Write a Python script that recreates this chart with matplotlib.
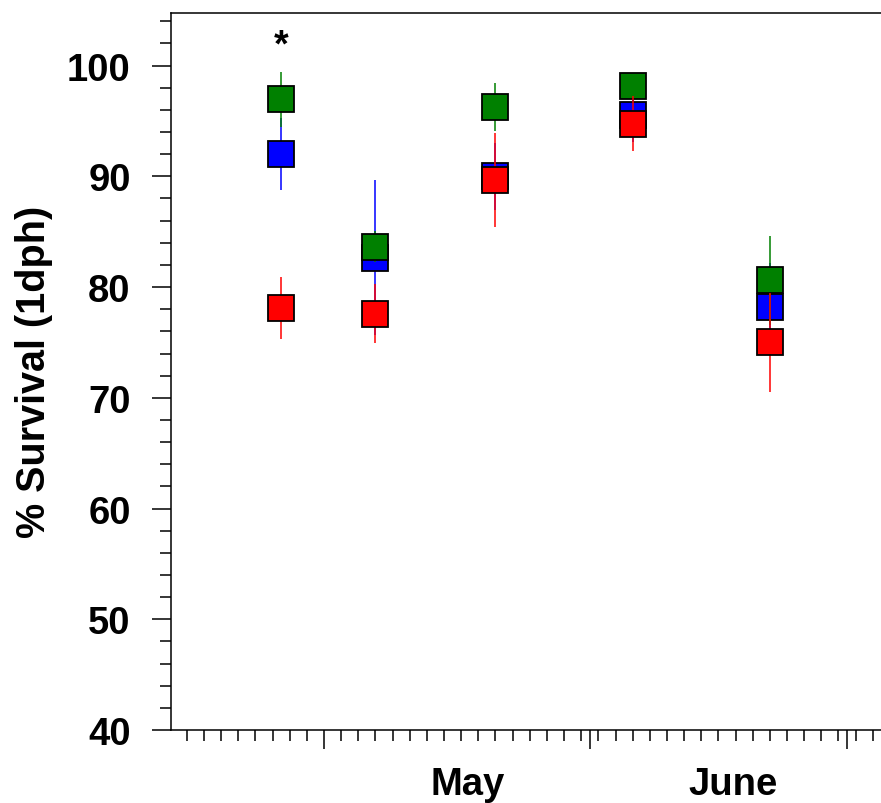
import matplotlib
matplotlib.use("Agg")
import matplotlib.pyplot as plt
from matplotlib.ticker import MultipleLocator, FixedLocator, NullFormatter
import matplotlib.transforms as mtransforms

# ---- data (x = day of year) ----
days = [116, 127, 141, 157, 173]

blue_mean = [92.0, 82.66, 90.0, 95.53, 78.18]
blue_err = [3.25, 7.0, 3.0, 2.4, 4.0]

green_mean = [96.95, 83.65, 96.3, 98.15, 80.6]
green_err = [2.46, 1.4, 2.17, 1.0, 4.0]

red_mean = [78.07, 77.6, 89.65, 94.75, 75.0]
red_err = [2.8, 2.65, 4.24, 2.5, 4.5]

month_starts = [121, 152, 182]
month_labels = ["May", "June"]
month_label_pos = [137.8, 168.7]

y_label = "% Survival (1dph)"
star_day = 116
star_y = 100.9

plt.rcParams['font.family'] = ['Liberation Sans', 'DejaVu Sans']
plt.rcParams['font.weight'] = 'bold'

fig = plt.figure(figsize=(8.81, 8.04), dpi=100)
ax = fig.add_axes([171/881, 1 - 731/804, 1 - 171/881, (731 - 14)/804])

series = [(blue_mean, blue_err, '#0000ff'),
          (green_mean, green_err, '#008000'),
          (red_mean, red_err, '#ff0000')]
for i, (m, e, c) in enumerate(series):
    ax.errorbar(days, m, yerr=e, fmt='none', ecolor=c, elinewidth=1.1,
                capsize=0, zorder=2 + 2 * i)
    ax.plot(days, m, linestyle='none', marker='s', markersize=19,
            markerfacecolor=c, markeredgecolor='black', markeredgewidth=1.3,
            zorder=3 + 2 * i)

ax.set_xlim(103.16, 185.96)
ax.set_ylim(40, 104.75)

ax.spines['right'].set_visible(False)
for s in ['left', 'bottom', 'top']:
    ax.spines[s].set_linewidth(1.1)

ax.yaxis.set_major_locator(MultipleLocator(10))
ax.yaxis.set_minor_locator(MultipleLocator(2))
ax.xaxis.set_major_locator(FixedLocator(month_starts))
ax.xaxis.set_minor_locator(MultipleLocator(2, offset=1))
ax.xaxis.set_major_formatter(NullFormatter())

ax.tick_params(axis='both', which='major', direction='out', length=14, width=1.1)
ax.tick_params(axis='both', which='minor', direction='out', length=8, width=1.1)
ax.tick_params(axis='y', which='major', labelsize=27.5, pad=15)
for lbl in ax.get_yticklabels():
    lbl.set_fontweight('bold')

trans = mtransforms.blended_transform_factory(ax.transData, ax.transAxes)
for xp, lab in zip(month_label_pos, month_labels):
    ax.text(xp, -0.0893, lab, transform=trans, ha='center', va='baseline',
            fontsize=27.5, fontweight='bold')

ax.text(star_day, star_y, '*', ha='center', va='baseline', fontsize=27,
        fontweight='bold')

fig.text(34/881, 1 - 372/804, y_label, rotation=90, ha='center', va='center',
         fontsize=28.5, fontweight='bold')

fig.savefig('out.png', dpi=100)
